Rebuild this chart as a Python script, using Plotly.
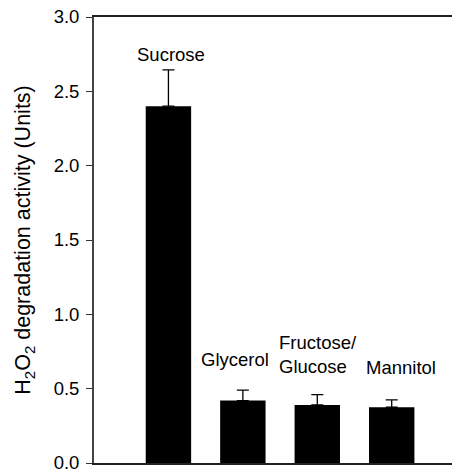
import plotly.graph_objects as go

categories = ["Sucrose", "Glycerol", "Fructose/Glucose", "Mannitol"]
values = [2.40, 0.42, 0.39, 0.375]
errors = [0.245, 0.07, 0.07, 0.05]
label_texts = ["Sucrose", "Glycerol", "Fructose/<br>Glucose", "Mannitol"]
label_x = [0.04, 0.89, 2.01, 3.13]
label_y = [2.745, 0.697, 0.728, 0.641]
y_ticks = [0.0, 0.5, 1.0, 1.5, 2.0, 2.5, 3.0]

font_family = "Liberation Sans, Arial, sans-serif"

fig = go.Figure()
fig.add_trace(go.Bar(
    x=list(range(len(categories))),
    y=values,
    marker=dict(color="black", line=dict(width=0)),
    width=0.61,
    error_y=dict(type="data", array=errors, arrayminus=[0] * len(errors),
                 symmetric=False, color="black", thickness=1.3, width=6),
    hovertext=categories,
))

for t, x, y in zip(label_texts, label_x, label_y):
    fig.add_annotation(x=x, y=y, text=t, showarrow=False, align="left",
                       font=dict(family=font_family, size=18.5, color="black"),
                       xref="x", yref="y")

fig.update_layout(
    width=452, height=473,
    margin=dict(l=94, r=0, t=17, b=7),
    paper_bgcolor="white", plot_bgcolor="white",
    showlegend=False,
    font=dict(family=font_family, color="black"),
)
fig.update_xaxes(range=[-1, 3.81], showticklabels=False, ticks="",
                 showgrid=False, zeroline=False, showline=True, mirror=True,
                 linecolor="#222222", linewidth=1.5)
fig.update_yaxes(range=[0, 3.0], tickvals=y_ticks,
                 ticktext=[f"{v:.1f}" for v in y_ticks],
                 ticks="outside", ticklen=6, tickwidth=1.3, tickcolor="#333333",
                 showgrid=False, zeroline=False, showline=True,
                 linecolor="#444444", linewidth=1.8,
                 ticklabeloverflow="allow",
                 tickfont=dict(family=font_family, size=18.5, color="black"),
                 ticklabelstandoff=3,
                 title=dict(text="H<sub>2</sub>O<sub>2</sub> degradation activity (Units)",
                            font=dict(family=font_family, size=21.5, color="black"),
                            standoff=17))

fig.write_html("out.html")
